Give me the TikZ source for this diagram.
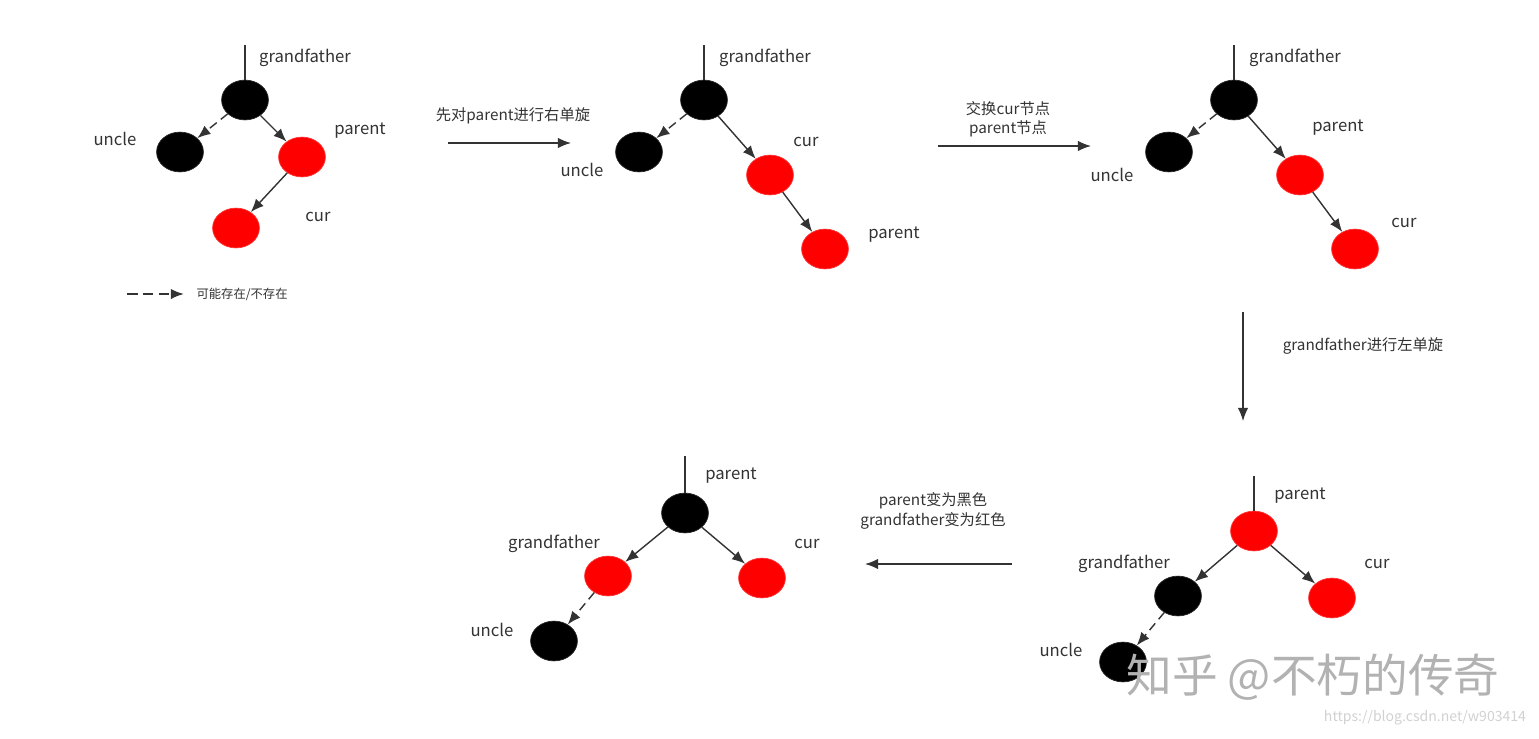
\documentclass[tikz,border=0pt]{standalone}
\usepackage{fontspec}
\setmainfont{Noto Sans CJK SC}
\usepackage{tikz}
\usetikzlibrary{
    positioning,      % For placing nodes relative to each other
    shapes.geometric, % For ellipses
    arrows.meta       % For arrow tips
}
\definecolor{linegray}{HTML}{333333}
\definecolor{nodered}{HTML}{FF0000}
\tikzset{
    % A black tree node
    black_node/.style={
        ellipse, fill=black, draw=black!85,
        minimum width=47pt*0.567, minimum height=40pt*0.567, inner sep=0pt
    },
    % A red tree node
    red_node/.style={
        ellipse, fill=nodered, draw=red!80!white,
        minimum width=47pt*0.567, minimum height=40pt*0.567, inner sep=0pt
    },
    % Labels next to the nodes
    name_label/.style={font=\fontsize{9.5}{11}\selectfont, text=linegray, inner sep=0pt},
    % Labels above the step arrows
    step_label/.style={font=\fontsize{8.7}{11}\selectfont, text=linegray, align=center, inner sep=0pt},
    % Edge styles
    child_edge/.style={-{Latex[length=7.5pt,width=6pt]}, thick, draw=linegray},
    maybe_edge/.style={child_edge, dash pattern=on 5pt off 3pt},
    step_arrow/.style={-{Latex[length=7.5pt,width=6pt]}, thick, draw=linegray},
    root_line/.style={thick, draw=linegray}
}
\begin{document}
\begin{tikzpicture}[x=0.02cm, y=-0.02cm]
\useasboundingbox (0,0) rectangle (1539,738);

% --- TREE 1: START ---
\coordinate (gfA_top) at (245,45);
\node[black_node] (gfA) at (245,100) {};
\node[black_node] (uncleA) at (180,152) {};
\node[red_node] (parentA) at (302,157) {};
\node[red_node] (curA) at (236,228) {};
\node[name_label] (gfA_lbl) at (305,58) {grandfather};
\node[name_label] (uncleA_lbl) at (115,139) {uncle};
\node[name_label] (parentA_lbl) at (360,131) {parent};
\node[name_label] (curA_lbl) at (318,217) {cur};
\draw[root_line] (gfA_top) -- (gfA);
\draw[maybe_edge] (gfA) -- (uncleA);
\draw[child_edge] (gfA) -- (parentA);
\draw[child_edge] (parentA) -- (curA);

% Legend
\coordinate (key_start) at (127,294);
\coordinate (key_end) at (184,294);
\draw[maybe_edge, line width=1.2pt, dash pattern=on 6pt off 3pt] (key_start) -- (key_end);
\node[step_label, font=\fontsize{7}{9}\selectfont, right=7pt of key_end] (key_lbl) {可能存在/不存在};

% --- STEP 1 ---
\coordinate (stepA_from) at (448,143);
\coordinate (stepA_to) at (571,143);
\draw[step_arrow] (stepA_from) -- (stepA_to);
\node[step_label] (stepA_lbl) at (513,116) {先对parent进行右单旋};

% --- TREE 2 ---
\coordinate (gfB_top) at (704,45);
\node[black_node] (gfB) at (704,100) {};
\node[black_node] (uncleB) at (639,152) {};
\node[red_node] (curB) at (770,175) {};
\node[red_node] (parentB) at (825,249) {};
\node[name_label] (gfB_lbl) at (765,58) {grandfather};
\node[name_label] (uncleB_lbl) at (582,170) {uncle};
\node[name_label] (curB_lbl) at (806,142) {cur};
\node[name_label] (parentB_lbl) at (894,235) {parent};
\draw[root_line] (gfB_top) -- (gfB);
\draw[maybe_edge] (gfB) -- (uncleB);
\draw[child_edge] (gfB) -- (curB);
\draw[child_edge] (curB) -- (parentB);

% --- STEP 2 ---
\coordinate (stepB_from) at (938,146);
\coordinate (stepB_to) at (1091,146);
\draw[step_arrow] (stepB_from) -- (stepB_to);
\node[step_label] (stepB_lbl) at (1008,119) {交换cur节点\\parent节点};

% --- TREE 3 ---
\coordinate (gfC_top) at (1234,45);
\node[black_node] (gfC) at (1234,100) {};
\node[black_node] (uncleC) at (1169,152) {};
\node[red_node] (parentC) at (1300,175) {};
\node[red_node] (curC) at (1355,249) {};
\node[name_label] (gfC_lbl) at (1295,58) {grandfather};
\node[name_label] (uncleC_lbl) at (1112,175) {uncle};
\node[name_label] (parentC_lbl) at (1338,128) {parent};
\node[name_label] (curC_lbl) at (1404,223) {cur};
\draw[root_line] (gfC_top) -- (gfC);
\draw[maybe_edge] (gfC) -- (uncleC);
\draw[child_edge] (gfC) -- (parentC);
\draw[child_edge] (parentC) -- (curC);

% --- STEP 3 ---
\coordinate (stepC_from) at (1243,312);
\coordinate (stepC_to) at (1243,421);
\draw[step_arrow] (stepC_from) -- (stepC_to);
\node[step_label] (stepC_lbl) at (1363,346) {grandfather进行左单旋};

% --- TREE 4 ---
\coordinate (parentD_top) at (1254,476);
\node[red_node] (parentD) at (1254,531) {};
\node[black_node] (gfD) at (1178,596) {};
\node[red_node] (curD) at (1332,598) {};
\node[black_node] (uncleD) at (1123,662) {};
\node[name_label] (parentD_lbl) at (1300,496) {parent};
\node[name_label] (gfD_lbl) at (1124,564) {grandfather};
\node[name_label] (curD_lbl) at (1377,564) {cur};
\node[name_label] (uncleD_lbl) at (1061,650) {uncle};
\draw[root_line] (parentD_top) -- (parentD);
\draw[child_edge] (parentD) -- (gfD);
\draw[child_edge] (parentD) -- (curD);
\draw[maybe_edge] (gfD) -- (uncleD);

% --- STEP 4 ---
\coordinate (stepD_from) at (1012,564);
\coordinate (stepD_to) at (865,564);
\draw[step_arrow] (stepD_from) -- (stepD_to);
\node[step_label] (stepD_lbl) at (933,511) {parent变为黑色\\grandfather变为红色};

% --- TREE 5: RESULT ---
\coordinate (parentE_top) at (685,456);
\node[black_node] (parentE) at (685,513) {};
\node[red_node] (gfE) at (608,576) {};
\node[red_node] (curE) at (762,578) {};
\node[black_node] (uncleE) at (554,641) {};
\node[name_label] (parentE_lbl) at (731,476) {parent};
\node[name_label] (gfE_lbl) at (554,544) {grandfather};
\node[name_label] (curE_lbl) at (807,544) {cur};
\node[name_label] (uncleE_lbl) at (492,630) {uncle};
\draw[root_line] (parentE_top) -- (parentE);
\draw[child_edge] (parentE) -- (gfE);
\draw[child_edge] (parentE) -- (curE);
\draw[maybe_edge] (gfE) -- (uncleE);

% Watermarks
\node[font=\fontsize{26}{30}\selectfont, text=black!30, inner sep=0pt] (mark_zhihu) at (1313,677) {知乎 @不朽的传奇};
\node[font=\fontsize{8}{10}\selectfont, text=black!18, inner sep=0pt] (mark_csdn) at (1425,718) {https://blog.csdn.net/w903414};

\end{tikzpicture}
\end{document}
